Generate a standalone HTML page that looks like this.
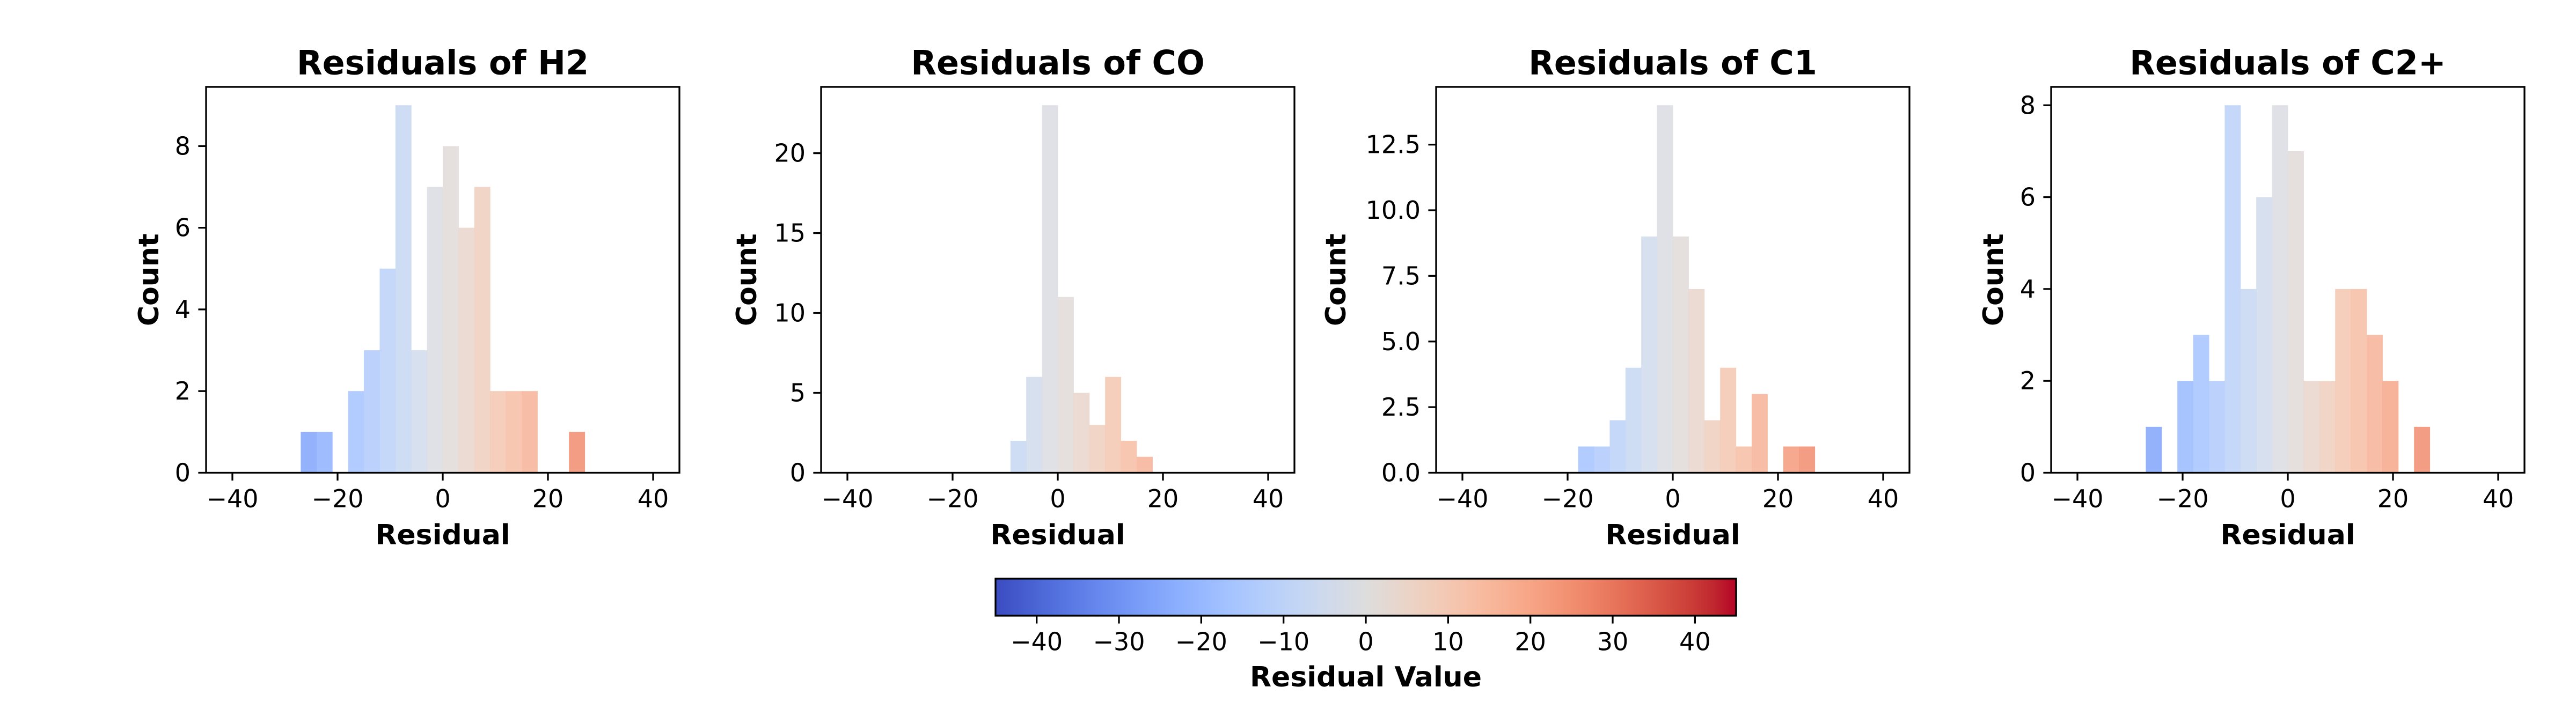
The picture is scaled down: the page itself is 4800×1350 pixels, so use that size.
<!DOCTYPE html>
<html><head><meta charset="utf-8">
<style>
html,body{margin:0;padding:0;background:#fff;}
svg{display:block;font-family:"DejaVu Sans","Liberation Sans",sans-serif;}
</style></head>
<body>
<svg id="fig" width="4800" height="1350" viewBox="0 0 4800 1350" xmlns="http://www.w3.org/2000/svg">
<defs><linearGradient id="cwgrad" x1="0" x2="1" y1="0" y2="0"></linearGradient></defs>
<rect width="4800" height="1350" fill="#fff"/>
</svg>
<script>
const binEdgesStart = -27;
const binWidth = 3;
const xTicks = [-40, -20, 0, 20, 40];
const h2Counts = [1,1,0,2,3,5,9,3,7,8,6,7,2,2,2,0,0,1];
const coCounts = [0,0,0,0,0,0,2,6,23,11,5,3,6,2,1,0,0,0];
const c1Counts = [0,0,0,1,1,2,4,9,14,9,7,2,4,1,3,0,1,1];
const c2Counts = [1,0,2,3,2,8,4,6,8,7,2,2,4,4,3,2,0,1];
const h2YTicks = [0,2,4,6,8];
const coYTicks = [0,5,10,15,20];
const c1YTicks = [0,2.5,5,7.5,10,12.5];
const c2YTicks = [0,2,4,6,8];
const panelTitles = ["Residuals of H2","Residuals of CO","Residuals of C1","Residuals of C2+"];
const cbarTicks = [-40,-30,-20,-10,0,10,20,30,40];

const CW = [[59,76,192],[68,90,204],[77,104,215],[87,117,225],[98,130,234],[108,142,241],[119,154,247],[130,165,251],[141,176,254],[152,185,255],[163,194,255],[174,201,253],[184,208,249],[194,213,244],[204,217,238],[213,219,230],[221,221,221],[229,216,209],[236,211,197],[241,204,185],[245,196,173],[247,187,160],[247,177,148],[247,166,135],[244,154,123],[241,141,111],[236,127,99],[229,112,88],[222,96,77],[213,80,66],[203,62,56],[192,40,47],[180,4,38]];
function coolwarm(t){t=Math.max(0,Math.min(1,t));const p=t*(CW.length-1);const i=Math.min(Math.floor(p),CW.length-2);const f=p-i;
 const c=CW[i].map((v,k)=>Math.round(v+(CW[i+1][k]-v)*f));return `rgb(${c[0]},${c[1]},${c[2]})`;}

const svg=document.getElementById('fig');
const NS="http://www.w3.org/2000/svg";
function mk(tag,attrs,parent){const e=document.createElementNS(NS,tag);for(const k in attrs)e.setAttribute(k,attrs[k]);(parent||svg).appendChild(e);return e;}
function fmt(v,dec){return (v<0?"\u2212":"")+Math.abs(v).toFixed(dec);}

const panels=[
 {left:384,counts:h2Counts,yt:h2YTicks,dec:0,lab:106},
 {left:1530,counts:coCounts,yt:coYTicks,dec:0,lab:138},
 {left:2676,counts:c1Counts,yt:c1YTicks,dec:1,lab:186},
 {left:3822,counts:c2Counts,yt:c2YTicks,dec:0,lab:107}
];
const axW=882, axTop=162, axBottom=881.5, xmin=-45, xmax=45;
panels.forEach((p,pi)=>{
 const g=mk('g',{});
 
 
 const maxC=Math.max(...p.counts), ymax=maxC*1.05;
 const xs=v=>p.left+(v-xmin)/(xmax-xmin)*axW;
 const ys=v=>axBottom-v/ymax*(axBottom-axTop);
 p.counts.forEach((c,i)=>{
  if(c<=0)return;
  const x0=binEdgesStart+i*binWidth, x1=x0+binWidth, ctr=(x0+x1)/2;
  const r=mk('rect',{x:xs(x0),y:ys(c),width:xs(x1)-xs(x0)+0.5,height:ys(0)-ys(c),fill:coolwarm((ctr-xmin)/(xmax-xmin)),'fill-opacity':0.85},g);
  
  
 });
 const fr=mk('rect',{x:p.left,y:axTop,width:axW,height:axBottom-axTop,fill:'none',stroke:'#000','stroke-width':3.3},g);
 
 
 xTicks.forEach(v=>{
  mk('line',{x1:xs(v),x2:xs(v),y1:axBottom,y2:axBottom+14.6,stroke:'#000','stroke-width':3.3},g);
  const t=mk('text',{x:xs(v),y:axBottom+30,'font-size':46,'text-anchor':'middle','dominant-baseline':'hanging'},g);
  t.textContent=fmt(v,0);
  
  
 });
 p.yt.forEach(v=>{
  mk('line',{x1:p.left,x2:p.left-14.6,y1:ys(v),y2:ys(v),stroke:'#000','stroke-width':3.3},g);
  const t=mk('text',{x:p.left-29,y:ys(v),'font-size':46,'text-anchor':'end','dominant-baseline':'central'},g);
  t.textContent=fmt(v,p.dec);
  
  
 });
 const ti=mk('text',{x:p.left+axW/2,y:117,'font-size':62,'font-weight':'bold','text-anchor':'middle','dominant-baseline':'central'},g);
 ti.textContent=panelTitles[pi];
 
 
 const xl=mk('text',{x:p.left+axW/2,y:998,'font-size':52,'font-weight':'bold','text-anchor':'middle','dominant-baseline':'central'},g);
 xl.textContent="Residual";
 
 
 const cx=p.left-p.lab, cy=(axTop+axBottom)/2;
 const yl=mk('text',{x:cx,y:cy,'font-size':52,'font-weight':'bold','text-anchor':'middle','dominant-baseline':'central',transform:`rotate(-90 ${cx} ${cy})`},g);
 yl.textContent="Count";
 
 
});

const grad=document.getElementById('cwgrad');
for(let i=0;i<=32;i++){mk('stop',{offset:(i/32),'stop-color':coolwarm(i/32)},grad);}
const cbL=1855,cbR=3235,cbT=1079,cbB=1148;
const cg=mk('g',{});


mk('rect',{x:cbL,y:cbT,width:cbR-cbL,height:cbB-cbT,fill:'url(#cwgrad)',stroke:'#000','stroke-width':3.3},cg);
const cbx=v=>cbL+(v+45)/90*(cbR-cbL);
cbarTicks.forEach(v=>{
 mk('line',{x1:cbx(v),x2:cbx(v),y1:cbB,y2:cbB+14.6,stroke:'#000','stroke-width':3.3},cg);
 const t=mk('text',{x:cbx(v),y:cbB+30,'font-size':46,'text-anchor':'middle','dominant-baseline':'hanging'},cg);
 t.textContent=fmt(v,0);
 
 
});
const cl=mk('text',{x:(cbL+cbR)/2,y:1263,'font-size':52,'font-weight':'bold','text-anchor':'middle','dominant-baseline':'central'},cg);
cl.textContent="Residual Value";


</script>
</body></html>
